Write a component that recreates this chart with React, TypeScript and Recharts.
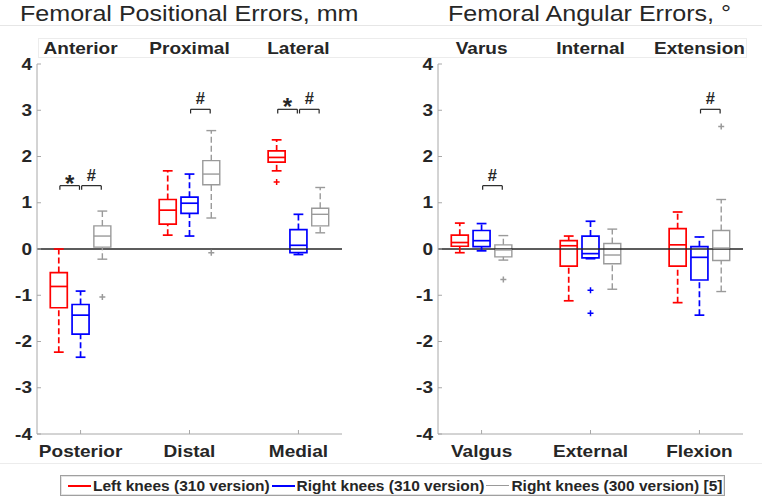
import React from 'react';
import { ComposedChart, XAxis, YAxis, ReferenceLine, ReferenceArea, Scatter } from 'recharts';

// ---- data -------------------------------------------------------------
const seriesNames = ['Left knees (310 version)', 'Right knees (310 version)', 'Right knees (300 version) [5]'];
const seriesColors = ['#ff0000', '#0000ff', '#9a9a9a'];

const posTopLabels = ['Anterior', 'Proximal', 'Lateral'];
const posBottomLabels = ['Posterior', 'Distal', 'Medial'];
const angTopLabels = ['Varus', 'Internal', 'Extension'];
const angBottomLabels = ['Valgus', 'External', 'Flexion'];

const yTicks = [-4, -3, -2, -1, 0, 1, 2, 3, 4];

// box statistics per category: [min, q1, median, q3, max]
const posLeft310 = [
  [-2.23, -1.27, -0.81, -0.51, 0.0],
  [0.3, 0.54, 0.84, 1.07, 1.69],
  [1.69, 1.88, 1.98, 2.12, 2.36],
];
const posRight310 = [
  [-2.34, -1.84, -1.43, -1.2, -0.91],
  [0.28, 0.77, 0.99, 1.12, 1.62],
  [-0.12, -0.08, 0.08, 0.42, 0.75],
];
const posRight300 = [
  [-0.22, 0.04, 0.28, 0.5, 0.82],
  [0.67, 1.39, 1.62, 1.91, 2.56],
  [0.35, 0.5, 0.75, 0.88, 1.33],
];

const angLeft310 = [
  [-0.08, 0.06, 0.14, 0.3, 0.56],
  [-1.12, -0.37, 0.07, 0.18, 0.28],
  [-1.16, -0.37, 0.09, 0.44, 0.8],
];
const angRight310 = [
  [-0.04, 0.05, 0.18, 0.4, 0.55],
  [-0.21, -0.19, -0.1, 0.28, 0.6],
  [-1.43, -0.67, -0.18, 0.05, 0.26],
];
const angRight300 = [
  [-0.24, -0.17, -0.02, 0.09, 0.29],
  [-0.87, -0.32, -0.13, 0.12, 0.43],
  [-0.92, -0.25, 0.02, 0.4, 1.07],
];

// outliers: series index, category (1-based), value
const posOutliers = [
  { series: 0, cat: 3, value: 1.45 },
  { series: 2, cat: 1, value: -1.04 },
  { series: 2, cat: 2, value: -0.08 },
];
const angOutliers = [
  { series: 1, cat: 2, value: -0.89 },
  { series: 1, cat: 2, value: -1.39 },
  { series: 2, cat: 1, value: -0.66 },
  { series: 2, cat: 3, value: 2.65 },
];

// significance brackets between two series of one category
const posSig = [
  { cat: 1, from: 0, to: 1, level: 1.37, mark: '*' },
  { cat: 1, from: 1, to: 2, level: 1.37, mark: '#' },
  { cat: 2, from: 1, to: 2, level: 3.02, mark: '#' },
  { cat: 3, from: 0, to: 1, level: 3.02, mark: '*' },
  { cat: 3, from: 1, to: 2, level: 3.02, mark: '#' },
];
const angSig = [
  { cat: 1, from: 1, to: 2, level: 1.37, mark: '#' },
  { cat: 3, from: 1, to: 2, level: 3.02, mark: '#' },
];

// ---- styling ----------------------------------------------------------
const FONT = '"Liberation Sans", Arial, Helvetica, sans-serif';
const INK = '#262626';
const AXIS_GRAY = '#a8a8a8';
const SX = 1.12; // horizontal stretch of the bold labels
const OFFSETS = [-0.2, 0, 0.2];
const BOX_HALF = 0.078;
const CAP_HALF = 0.045;

const YTick = (props: any) => {
  const { x, y, payload } = props;
  return (
    <g>
      <line x1={x + 5} x2={x + 9} y1={y} y2={y} stroke={AXIS_GRAY} />
      <g transform={`translate(${x},${y}) scale(${SX},1)`}>
        <text x={0} y={0} textAnchor="end" dominantBaseline="central" fontSize={17} fontWeight="bold" fill={INK} fontFamily={FONT}>
          {payload.value}
        </text>
      </g>
    </g>
  );
};

const makeBottomTick = (labels: string[]) => (props: any) => {
  const { x, y, payload } = props;
  return (
    <g>
      <line x1={x} x2={x} y1={y} y2={y - 4} stroke={AXIS_GRAY} />
      <g transform={`translate(${x},${y + 17}) scale(${SX},1)`}>
        <text x={0} y={0} textAnchor="middle" dominantBaseline="central" fontSize={17} fontWeight="bold" fill={INK} fontFamily={FONT}>
          {labels[payload.value - 1]}
        </text>
      </g>
    </g>
  );
};

const makeTopTick = (labels: string[]) => (props: any) => {
  const { x, y, payload } = props;
  return (
    <g transform={`translate(${x},${y - 16}) scale(${SX},1)`}>
      <text x={0} y={0} textAnchor="middle" dominantBaseline="central" fontSize={17} fontWeight="bold" fill={INK} fontFamily={FONT}>
        {labels[payload.value - 1]}
      </text>
    </g>
  );
};

const plusShape = (color: string) => (props: any) => {
  const { cx, cy } = props;
  return <path d={`M${cx - 3},${cy}H${cx + 3}M${cx},${cy - 3}V${cy + 3}`} stroke={color} strokeWidth={1.5} fill="none" />;
};

const markShape = (props: any) => {
  const { cx, cy, payload } = props;
  const isStar = payload.mark === '*';
  return (
    <text
      x={cx}
      y={isStar ? cy + 6 : cy - 5}
      textAnchor="middle"
      fontSize={isStar ? 24 : 16.5}
      fontWeight="bold"
      fill={INK}
      fontFamily={FONT}
    >
      {payload.mark}
    </text>
  );
};

type Stats = number[][];
type Outlier = { series: number; cat: number; value: number };
type Sig = { cat: number; from: number; to: number; level: number; mark: string };

function renderPanel(
  width: number,
  marginLeft: number,
  marginRight: number,
  topLabels: string[],
  bottomLabels: string[],
  groups: Stats[],
  outliers: Outlier[],
  sig: Sig[],
) {
  const elements: React.ReactNode[] = [];

  groups.forEach((stats, s) => {
    const color = seriesColors[s];
    const sw = s === 2 ? 1.4 : 1.7;
    stats.forEach((st, i) => {
      const [mn, q1, med, q3, mx] = st;
      const cx = i + 1 + OFFSETS[s];
      const key = `${s}-${i}`;
      elements.push(
        <ReferenceLine key={`wu${key}`} segment={[{ x: cx, y: q3 }, { x: cx, y: mx }]} stroke={color} strokeWidth={sw} strokeDasharray="6 3" />,
        <ReferenceLine key={`wl${key}`} segment={[{ x: cx, y: mn }, { x: cx, y: q1 }]} stroke={color} strokeWidth={sw} strokeDasharray="6 3" />,
        <ReferenceLine key={`cu${key}`} segment={[{ x: cx - CAP_HALF, y: mx }, { x: cx + CAP_HALF, y: mx }]} stroke={color} strokeWidth={sw} />,
        <ReferenceLine key={`cl${key}`} segment={[{ x: cx - CAP_HALF, y: mn }, { x: cx + CAP_HALF, y: mn }]} stroke={color} strokeWidth={sw} />,
        <ReferenceArea key={`b${key}`} x1={cx - BOX_HALF} x2={cx + BOX_HALF} y1={q1} y2={q3} fill="#ffffff" fillOpacity={1} stroke={color} strokeWidth={sw} />,
        <ReferenceLine key={`m${key}`} segment={[{ x: cx - BOX_HALF, y: med }, { x: cx + BOX_HALF, y: med }]} stroke={color} strokeWidth={sw} />,
      );
    });
  });

  sig.forEach((g, k) => {
    const xa = g.cat + OFFSETS[g.from] + 0.01;
    const xb = g.cat + OFFSETS[g.to] - 0.01;
    const drop = 0.09;
    elements.push(
      <ReferenceLine key={`sh${k}`} segment={[{ x: xa, y: g.level }, { x: xb, y: g.level }]} stroke={INK} strokeWidth={1.2} />,
      <ReferenceLine key={`sa${k}`} segment={[{ x: xa, y: g.level - drop }, { x: xa, y: g.level }]} stroke={INK} strokeWidth={1.2} />,
      <ReferenceLine key={`sb${k}`} segment={[{ x: xb, y: g.level - drop }, { x: xb, y: g.level }]} stroke={INK} strokeWidth={1.2} />,
    );
  });

  const markData = sig.map((g) => ({
    x: g.cat + (OFFSETS[g.from] + OFFSETS[g.to]) / 2,
    y: g.level,
    mark: g.mark,
  }));

  return (
    <ComposedChart width={width} height={501} margin={{ top: 34, right: marginRight, bottom: 37, left: marginLeft }}>
      <XAxis
        xAxisId="top"
        orientation="top"
        type="number"
        dataKey="x"
        domain={[0.6, 3.4]}
        ticks={[1, 2, 3]}
        allowDataOverflow
        axisLine={false}
        tickLine={false}
        tickSize={0}
        tickMargin={0}
        height={30}
        tick={makeTopTick(topLabels)}
      />
      <XAxis
        type="number"
        dataKey="x"
        domain={[0.6, 3.4]}
        ticks={[1, 2, 3]}
        allowDataOverflow
        axisLine={{ stroke: AXIS_GRAY }}
        tickLine={false}
        tickSize={0}
        tickMargin={0}
        height={30}
        tick={makeBottomTick(bottomLabels)}
      />
      <YAxis
        type="number"
        domain={[-4, 4]}
        ticks={yTicks}
        allowDataOverflow
        width={37}
        axisLine={{ stroke: AXIS_GRAY }}
        tickLine={false}
        tickSize={0}
        tickMargin={5}
        tick={YTick}
      />
      <ReferenceLine y={0} stroke={INK} strokeWidth={1.5} />
      {elements}
      {groups.map((_, s) => {
        const pts = outliers
          .filter((o) => o.series === s)
          .map((o) => ({ x: o.cat + OFFSETS[s], y: o.value }));
        return (
          <Scatter
            key={`out${s}`}
            data={pts}
            dataKey="y"
            shape={plusShape(seriesColors[s])}
            isAnimationActive={false}
          />
        );
      })}
      <Scatter data={markData} dataKey="y" shape={markShape} isAnimationActive={false} />
    </ComposedChart>
  );
}

const Legend = () => (
  <div
    style={{
      position: 'absolute',
      left: 60,
      top: 475,
      width: 665,
      height: 21,
      boxSizing: 'border-box',
      border: '1px solid #a0a0a0',
      boxShadow: 'inset 0 0 0 1px #e4e4e4',
      display: 'flex',
      alignItems: 'center',
      paddingLeft: 7,
      fontFamily: FONT,
      fontWeight: 'bold',
      fontSize: 15.5,
      color: INK,
      whiteSpace: 'nowrap',
    }}
  >
    {seriesNames.map((name, i) => (
      <div key={name} style={{ display: 'flex', alignItems: 'center', marginRight: 2 }}>
        <div style={{ width: 23, height: 0, borderTop: `${i === 2 ? 1 : 2}px solid ${seriesColors[i]}`, marginRight: 2 }} />
        <span>{name}</span>
      </div>
    ))}
  </div>
);

export default function App() {
  return (
    <div style={{ position: 'absolute', left: 0, top: 0, width: 762, height: 501, background: '#ffffff', overflow: 'hidden' }}>
      <svg width={762} height={501} style={{ position: 'absolute', left: 0, top: 0 }}>
        <line x1={0} x2={762} y1={25.5} y2={25.5} stroke="#e6e6e6" />
        <rect x={38.5} y={38.5} width={708} height={19} fill="none" stroke="#ececec" />
        <line x1={0} x2={762} y1={463.5} y2={463.5} stroke="#ececec" />
        <g transform="translate(20,21) scale(1.14,1)">
          <text x={0} y={0} fontSize={22} fill={INK} fontFamily={FONT}>Femoral Positional Errors, mm</text>
        </g>
        <g transform="translate(448,21) scale(1.14,1)">
          <text x={0} y={0} fontSize={22} fill={INK} fontFamily={FONT}>Femoral Angular Errors, °</text>
        </g>
      </svg>
      <div style={{ position: 'absolute', left: 0, top: 0 }}>
        {renderPanel(380, 0, 38, posTopLabels, posBottomLabels, [posLeft310, posRight310, posRight300], posOutliers, posSig)}
      </div>
      <div style={{ position: 'absolute', left: 380, top: 0 }}>
        {renderPanel(382, 21, 19, angTopLabels, angBottomLabels, [angLeft310, angRight310, angRight300], angOutliers, angSig)}
      </div>
      <Legend />
    </div>
  );
}
